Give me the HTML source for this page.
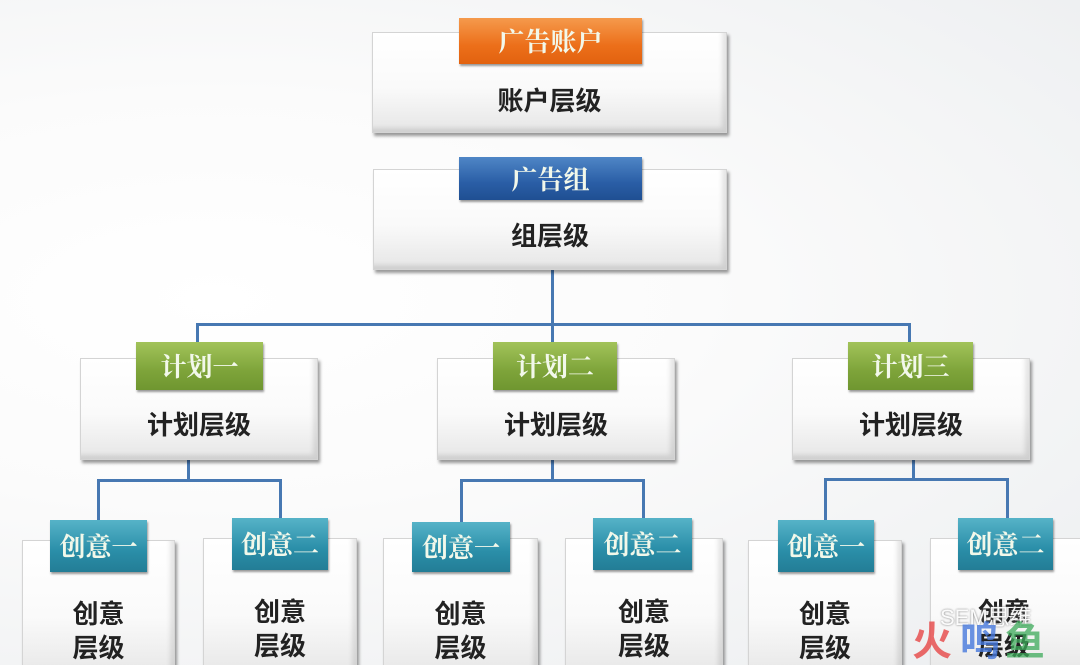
<!DOCTYPE html>
<html><head><meta charset="utf-8"><style>
html,body{margin:0;width:1080px;height:665px;overflow:hidden;}
body{position:relative;
background:radial-gradient(ellipse at 20% 45%,#ffffff 0%,#fbfbfb 40%,#eceef0 100%);
font-family:"Liberation Sans","Noto Sans CJK SC",sans-serif;}
.box{position:absolute;background:linear-gradient(#ffffff 0%,#fafafa 55%,#e6e6e6 100%);
box-shadow:2px 3px 3px rgba(0,0,0,.4),inset -4px -4px 5px rgba(0,0,0,.10);border:1px solid #d4d4d4;box-sizing:border-box;}
.lbl{position:absolute;left:0;right:0;text-align:center;font-weight:bold;color:#222;font-size:26px;}
.tag{position:absolute;box-sizing:border-box;text-align:center;color:#f2f8ea;font-family:"Noto Serif CJK SC","Liberation Serif",serif;font-weight:bold;font-size:26px;box-shadow:1px 2px 2px rgba(0,0,0,.4);}
.o{background:linear-gradient(#f59a4c,#ec6f1a 60%,#e2620f);}
.b{background:linear-gradient(#4f86c6,#2a5ea6 60%,#1f4f92);}
.g{background:linear-gradient(#a2c35a,#7ea43a 60%,#6f9630);}
.t{background:linear-gradient(#56b3c8,#2a8ea8 60%,#237d96);}
.ln{position:absolute;background:#4778b2;}
</style></head><body>
<div class="ln" style="left:551px;top:270px;width:3px;height:76px"></div>
<div class="ln" style="left:196px;top:323px;width:715px;height:3px"></div>
<div class="ln" style="left:196px;top:323px;width:3px;height:22px"></div>
<div class="ln" style="left:908px;top:323px;width:3px;height:22px"></div>
<div class="ln" style="left:187px;top:460px;width:3px;height:20px"></div>
<div class="ln" style="left:97px;top:479px;width:185px;height:3px"></div>
<div class="ln" style="left:97px;top:479px;width:3px;height:42px"></div>
<div class="ln" style="left:279px;top:479px;width:3px;height:40px"></div>
<div class="ln" style="left:551px;top:460px;width:3px;height:20px"></div>
<div class="ln" style="left:460px;top:479px;width:185px;height:3px"></div>
<div class="ln" style="left:460px;top:479px;width:3px;height:43px"></div>
<div class="ln" style="left:642px;top:479px;width:3px;height:40px"></div>
<div class="ln" style="left:912px;top:460px;width:3px;height:20px"></div>
<div class="ln" style="left:824px;top:478px;width:185px;height:3px"></div>
<div class="ln" style="left:824px;top:478px;width:3px;height:43px"></div>
<div class="ln" style="left:1006px;top:478px;width:3px;height:40px"></div>

<div class="box" style="left:372px;top:32px;width:355px;height:101px"><div class="lbl" style="top:48px">账户层级</div></div>
<div class="tag o" style="left:459px;top:18px;width:183px;height:46px;line-height:46px">广告账户</div>
<div class="box" style="left:373px;top:169px;width:354px;height:101px"><div class="lbl" style="top:46px">组层级</div></div>
<div class="tag b" style="left:459px;top:157px;width:183px;height:43px;line-height:43px">广告组</div>

<div class="box" style="left:80px;top:358px;width:238px;height:102px"><div class="lbl" style="top:46px">计划层级</div></div>
<div class="tag g" style="left:136px;top:342px;width:127px;height:48px;line-height:48px">计划一</div>
<div class="box" style="left:437px;top:358px;width:238px;height:102px"><div class="lbl" style="top:46px">计划层级</div></div>
<div class="tag g" style="left:493px;top:342px;width:124px;height:48px;line-height:48px">计划二</div>
<div class="box" style="left:792px;top:358px;width:238px;height:102px"><div class="lbl" style="top:46px">计划层级</div></div>
<div class="tag g" style="left:848px;top:342px;width:125px;height:48px;line-height:48px">计划三</div>

<div class="box" style="left:22px;top:540px;width:153px;height:140px"><div class="lbl" style="top:56px;line-height:34px">创意<br>层级</div></div>
<div class="tag t" style="left:50px;top:520px;width:97px;height:52px;line-height:52px">创意一</div>
<div class="box" style="left:203px;top:538px;width:154px;height:140px"><div class="lbl" style="top:56px;line-height:34px">创意<br>层级</div></div>
<div class="tag t" style="left:232px;top:518px;width:96px;height:52px;line-height:52px">创意二</div>
<div class="box" style="left:383px;top:538px;width:155px;height:140px"><div class="lbl" style="top:58px;line-height:34px">创意<br>层级</div></div>
<div class="tag t" style="left:412px;top:522px;width:98px;height:50px;line-height:50px">创意一</div>
<div class="box" style="left:565px;top:538px;width:158px;height:140px"><div class="lbl" style="top:56px;line-height:34px">创意<br>层级</div></div>
<div class="tag t" style="left:593px;top:518px;width:99px;height:52px;line-height:52px">创意二</div>
<div class="box" style="left:748px;top:540px;width:154px;height:140px"><div class="lbl" style="top:56px;line-height:34px">创意<br>层级</div></div>
<div class="tag t" style="left:778px;top:520px;width:96px;height:52px;line-height:52px">创意一</div>
<div class="box" style="left:930px;top:538px;width:160px;height:140px"><div class="lbl" style="top:56px;line-height:34px;padding-right:12px">创意<br>层级</div></div>
<div class="tag t" style="left:958px;top:518px;width:95px;height:52px;line-height:52px">创意二</div>

<div style="position:absolute;left:940px;top:600px;font-size:22px;color:rgba(255,255,255,.95);text-shadow:0 0 2px #777">SEM思维</div>
<div style="position:absolute;left:912px;top:620px;font-size:40px;font-weight:bold;color:rgba(230,80,80,.85);line-height:44px">火</div>
<div style="position:absolute;left:960px;top:620px;font-size:40px;font-weight:bold;color:rgba(70,120,220,.8);line-height:44px">鸣</div>
<div style="position:absolute;left:1005px;top:620px;font-size:40px;font-weight:bold;color:rgba(60,170,90,.75);line-height:44px">鱼</div>
</body></html>
